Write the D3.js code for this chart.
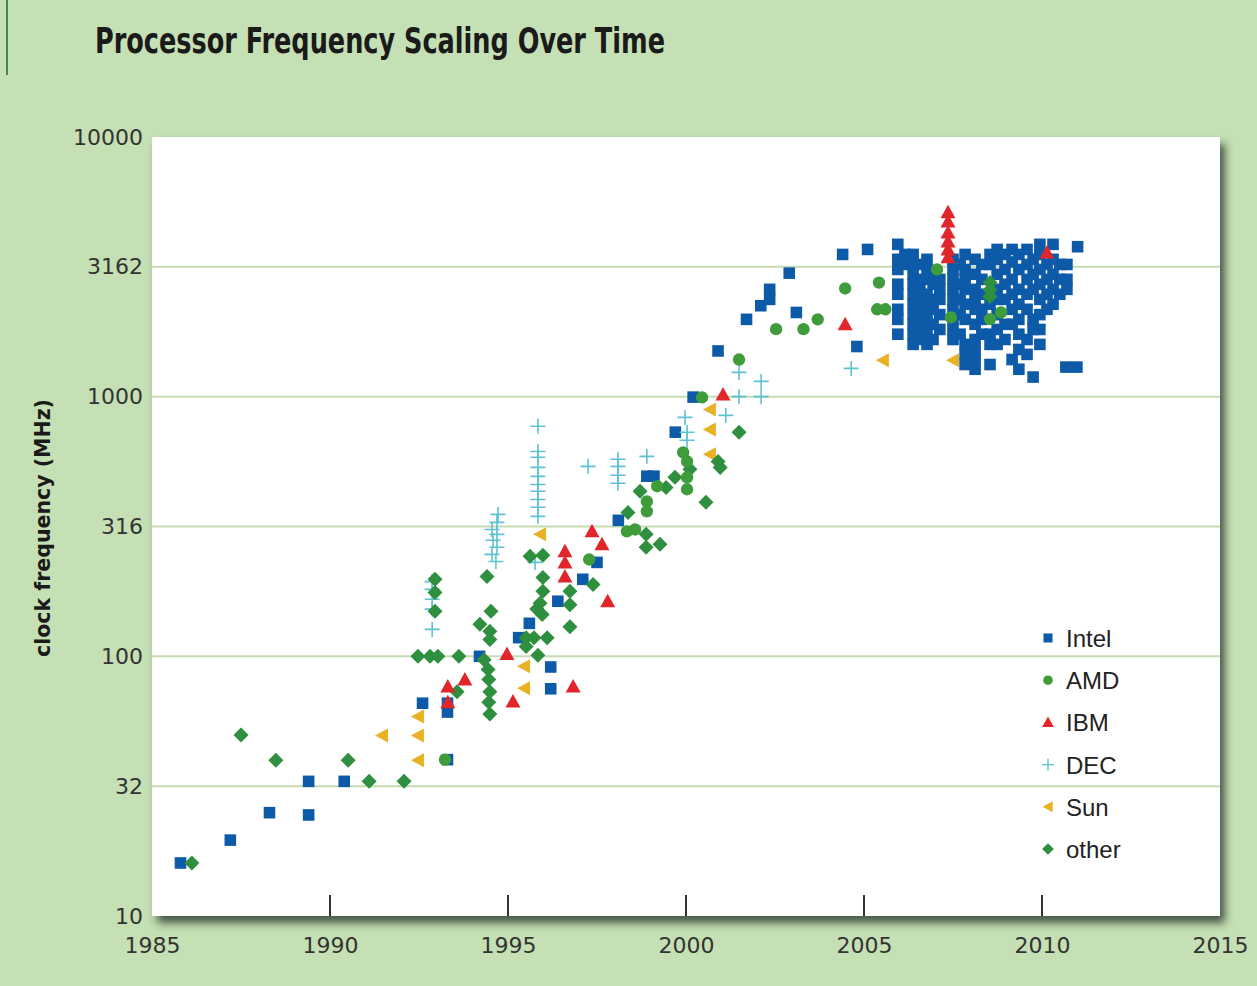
<!DOCTYPE html>
<html>
<head>
<meta charset="utf-8">
<script src="https://cdn.jsdelivr.net/npm/d3@7"></script>
<style>
  html, body { margin: 0; padding: 0; background: #fff; }
  svg { display: block; }
</style>
</head>
<body>
<div id="chart"></div>
<script>
// values: [year, clock frequency in MHz]
var intel = [
  [1985.8, 16], [1987.2, 19.6], [1988.3, 25], [1989.4, 24.5], [1989.4, 33], [1990.4, 33],
  [1992.6, 66], [1993.3, 66], [1993.3, 61], [1993.3, 40], [1994.2, 100], [1995.3, 118],
  [1995.6, 134], [1996.2, 91], [1996.2, 75], [1996.4, 163], [1997.1, 198], [1997.5, 230],
  [1998.1, 334], [1998.9, 494], [1999.1, 494], [1999.7, 730], [2000.2, 996], [2000.9, 1500],
  [2001.7, 1985], [2002.1, 2240], [2002.35, 2370], [2002.35, 2590], [2002.9, 2990],
  [2003.1, 2110], [2004.4, 3530], [2005.1, 3690], [2004.8, 1560],
  [2010.67, 1300], [2010.98, 1300]
];

// the dense 2006-2011 block, one entry per column: [year, [MHz, ...]]
var intelCluster = [
  [2005.95, [3860, 3380, 3090, 2710, 2480, 2170, 1985, 1740]],
  [2006.15, [3530, 3230]],
  [2006.38, [3530, 3230, 2960, 2710, 2480, 2270, 2070, 1900, 1740, 1590]],
  [2006.57, [3230, 2830, 2590, 2370, 2170, 1985, 1815, 1660]],
  [2006.77, [3380, 3090, 2830, 2480, 2270, 2070, 1900, 1740, 1590]],
  [2006.94, [2960, 2710, 2370, 2170, 1900, 1660]],
  [2007.13, [2830, 2590, 2370, 2070, 1815]],
  [2007.5, [3380, 3090, 2830, 2590, 2370, 2170, 1985, 1815, 1660]],
  [2007.7, [3230, 2710, 2370, 2070, 1740]],
  [2007.84, [3530, 3090, 2830, 2590, 2270, 1985, 1590, 1455, 1330]],
  [2008.12, [3380, 2960, 2590, 2370, 2170, 1900, 1660, 1520, 1390, 1275]],
  [2008.31, [3230, 2830, 2480, 2170, 1985, 1740]],
  [2008.54, [3530, 3230, 2270, 1740, 1590, 1330]],
  [2008.74, [3690, 3380, 2960, 2590, 2370, 2070, 1815, 1590]],
  [2008.96, [3530, 3090, 2710, 2370, 1900, 1660]],
  [2009.16, [3690, 3300, 2830, 2480, 2170, 1900, 1390]],
  [2009.35, [3530, 3090, 2590, 2270, 1985, 1740, 1520, 1275]],
  [2009.58, [3690, 3230, 2830, 2480, 2170, 1660, 1455]],
  [2009.75, [3380, 2960, 2590, 1985, 1815, 1190]],
  [2009.94, [3860, 3530, 3090, 2710, 2370, 2070, 1815, 1590]],
  [2010.14, [3230, 2830, 2480, 2170]],
  [2010.31, [3860, 3380, 2960, 2590, 2270]],
  [2010.5, [3230, 2830, 2480]],
  [2010.7, [3230, 2830, 2590]],
  [2011.0, [3780]]
];

var amd = [
  [1993.23, 40], [1997.28, 236], [1998.34, 303], [1998.57, 308], [1998.9, 362], [1998.9, 395],
  [1999.19, 452], [1999.92, 610], [2000.03, 563], [2000.03, 489], [2000.03, 440], [2000.45, 994],
  [2001.49, 1390], [2002.53, 1820], [2003.3, 1820], [2003.7, 1985], [2004.47, 2610],
  [2005.42, 2750], [2005.37, 2170], [2005.6, 2170], [2007.05, 3090], [2007.44, 2020],
  [2008.54, 1990], [2008.85, 2110]
];

var ibm = [
  [1993.31, 76.6], [1993.79, 81.5], [1993.31, 66.5], [1994.97, 102], [1995.14, 67],
  [1996.6, 254], [1996.6, 230], [1996.6, 203], [1997.36, 303], [1997.64, 270], [1997.8, 163],
  [1996.83, 76.6], [2001.04, 1020], [2004.47, 1900],
  [2007.36, 5130], [2007.36, 4730], [2007.36, 4290], [2007.36, 3960], [2007.36, 3690],
  [2007.36, 3440], [2010.14, 3590]
];

var dec = [
  [1992.87, 194], [1992.87, 181], [1992.87, 166], [1992.87, 152], [1992.87, 127],
  [1994.72, 352], [1994.69, 328], [1994.55, 308], [1994.69, 295], [1994.58, 280],
  [1994.69, 263], [1994.55, 247], [1994.66, 232],
  [1995.84, 769], [1995.84, 615], [1995.84, 584], [1995.84, 534], [1995.84, 493],
  [1995.84, 459], [1995.84, 432], [1995.84, 402], [1995.84, 375], [1995.84, 346], [1995.76, 230],
  [1997.25, 539], [1998.09, 574], [1998.09, 539], [1998.09, 498], [1998.09, 464], [1998.9, 589],
  [1999.97, 832], [2000.03, 729], [2000.03, 679], [2001.12, 847], [2001.49, 1240],
  [2001.49, 1000], [2002.11, 1145], [2002.11, 1000], [2004.64, 1285]
];

var sun = [
  [1991.46, 49.6], [1992.47, 58.7], [1992.47, 49.6], [1992.47, 39.8], [1995.45, 91.5],
  [1995.45, 75.3], [1995.9, 295], [2000.67, 893], [2000.67, 748], [2000.67, 600],
  [2005.53, 1380], [2007.5, 1380]
];

var other = [
  [1986.12, 16], [1987.5, 49.8], [1988.48, 39.8], [1990.51, 39.8], [1991.1, 33], [1992.08, 33],
  [1992.47, 100], [1992.81, 100], [1993.03, 100], [1993.62, 100], [1992.95, 198], [1992.95, 176],
  [1992.95, 149], [1994.41, 203], [1994.52, 149], [1994.21, 133], [1994.49, 125], [1994.49, 116],
  [1994.33, 97], [1994.44, 89], [1994.46, 81.5], [1994.49, 73], [1994.46, 66.5], [1994.49, 60],
  [1993.57, 73], [1995.62, 243], [1995.98, 245], [1995.98, 201], [1995.98, 178], [1995.9, 160],
  [1995.81, 152], [1995.96, 145], [1995.51, 118], [1995.73, 118], [1996.1, 118], [1995.51, 109],
  [1995.84, 101], [1996.74, 178], [1996.74, 158], [1996.74, 130], [1997.39, 189], [1998.37, 358],
  [1998.88, 295], [1998.88, 263], [1999.27, 270], [1998.71, 432], [1999.44, 447], [1999.69, 489],
  [2000.11, 525], [2000.56, 392], [2000.9, 563], [2000.96, 534], [2001.49, 729],
  [2008.54, 2750], [2008.54, 2580], [2008.54, 2430]
];

var seriesNames = ["Intel", "AMD", "IBM", "DEC", "Sun", "other"];
var xTickValues = [1985, 1990, 1995, 2000, 2005, 2010, 2015];
var yTickValues = [10, 31.623, 100, 316.23, 1000, 3162.3, 10000];
var yTickLabels = ["10", "32", "100", "316", "1000", "3162", "10000"];

var colors = {
  Intel: "#0d5ba8", AMD: "#3f9c3a", IBM: "#e1262b",
  DEC: "#5cc2d2", Sun: "#e8b224", other: "#2e8f3e"
};

// marker shapes, centred on 0,0
var shapes = {
  Intel: "M-5.8,-5.8h11.6v11.6h-11.6Z",
  AMD: d3.symbol(d3.symbolCircle, 120)(),
  IBM: "M0,-7.5L7.5,6L-7.5,6Z",
  DEC: "M-7.5,0H7.5M0,-7.5V7.5",
  Sun: "M-7,0L6,-7L6,7Z",
  other: "M0,-7.5L7.5,0L0,7.5L-7.5,0Z"
};

var W = 1257, H = 986;
var plot = { left: 152, right: 1220, top: 137, bottom: 916 };

var svg = d3.select("#chart")
    .append("svg")
    .attr("width", W)
    .attr("height", H);

svg.append("rect")
    .attr("width", W)
    .attr("height", H)
    .attr("fill", "#c5e0b4");

// thin dark stripe at the top left edge
svg.append("line")
    .attr("x1", 7).attr("x2", 7)
    .attr("y1", 0).attr("y2", 75)
    .attr("stroke", "#3f8a3f")
    .attr("stroke-width", 2);

// title
svg.append("text")
    .attr("x", 95)
    .attr("y", 53)
    .attr("textLength", 570)
    .attr("lengthAdjust", "spacingAndGlyphs")
    .style("font-family", "'Liberation Sans Narrow', 'DejaVu Sans Condensed', sans-serif")
    .style("font-weight", "bold")
    .style("font-size", "35px")
    .style("fill", "#1a1a1a")
    .text("Processor Frequency Scaling Over Time");

// drop shadow for the white plot panel
var defs = svg.append("defs");
var f = defs.append("filter")
    .attr("id", "shadow")
    .attr("x", "-5%").attr("y", "-5%")
    .attr("width", "110%").attr("height", "115%");
f.append("feDropShadow")
    .attr("dx", 5).attr("dy", 7)
    .attr("stdDeviation", 4)
    .attr("flood-color", "#26352a")
    .attr("flood-opacity", 0.8);

svg.append("rect")
    .attr("x", plot.left)
    .attr("y", plot.top)
    .attr("width", plot.right - plot.left)
    .attr("height", plot.bottom - plot.top)
    .attr("fill", "#ffffff")
    .attr("filter", "url(#shadow)");

// scales
var x = d3.scaleLinear()
    .domain([1985, 2015])
    .range([plot.left, plot.right]);
var y = d3.scaleLog()
    .domain([10, 10000])
    .range([plot.bottom, plot.top]);

// horizontal grid lines
svg.append("g")
    .selectAll("line")
    .data(yTickValues.slice(1, -1))
    .enter()
    .append("line")
    .attr("x1", plot.left)
    .attr("x2", plot.right)
    .attr("y1", d => y(d))
    .attr("y2", d => y(d))
    .attr("stroke", "#c6dbb2")
    .attr("stroke-width", 2);

// small inward tick marks on the bottom edge
svg.append("g")
    .selectAll("line")
    .data(xTickValues.slice(1, -1))
    .enter()
    .append("line")
    .attr("x1", d => x(d))
    .attr("x2", d => x(d))
    .attr("y1", plot.bottom)
    .attr("y2", plot.bottom - 21)
    .attr("stroke", "#333")
    .attr("stroke-width", 2);

// Y axis labels
var yAxis = svg.append("g")
    .attr("transform", "translate(" + plot.left + ",0)")
    .call(d3.axisLeft(y)
        .tickValues(yTickValues)
        .tickFormat((d, i) => yTickLabels[i])
        .tickSize(0)
        .tickPadding(9));
yAxis.select(".domain").remove();
yAxis.selectAll("text")
    .style("font-family", "'DejaVu Sans', sans-serif")
    .style("font-size", "22px")
    .style("fill", "#333");

// X axis labels
var xAxis = svg.append("g")
    .attr("transform", "translate(0," + plot.bottom + ")")
    .call(d3.axisBottom(x)
        .tickValues(xTickValues)
        .tickFormat(d3.format("d"))
        .tickSize(0)
        .tickPadding(21));
xAxis.select(".domain").remove();
xAxis.selectAll("text")
    .style("font-family", "'DejaVu Sans', sans-serif")
    .style("font-size", "22px")
    .style("fill", "#333");

// y axis title
svg.append("text")
    .attr("transform", "translate(50,528) rotate(-90)")
    .attr("text-anchor", "middle")
    .attr("textLength", 258)
    .attr("lengthAdjust", "spacingAndGlyphs")
    .style("font-family", "'Liberation Sans Narrow', 'DejaVu Sans Condensed', sans-serif")
    .style("font-weight", "bold")
    .style("font-size", "22px")
    .style("fill", "#1a1a1a")
    .text("clock frequency (MHz)");

// flatten the Intel block into points
var intelAll = intel.slice();
intelCluster.forEach(col => {
    col[1].forEach(v => intelAll.push([col[0], v]));
});

var seriesData = {
    Intel: intelAll, DEC: dec, Sun: sun, other: other, AMD: amd, IBM: ibm
};

// drawing order: Intel underneath, IBM on top
["Intel", "DEC", "Sun", "other", "AMD", "IBM"].forEach(name => {
    var isLine = name === "DEC";
    svg.append("g")
        .selectAll("path")
        .data(seriesData[name])
        .enter()
        .append("path")
        .attr("transform", d => "translate(" + x(d[0]) + "," + y(d[1]) + ")")
        .attr("d", shapes[name])
        .attr("fill", isLine ? "none" : colors[name])
        .attr("stroke", isLine ? colors[name] : "none")
        .attr("stroke-width", isLine ? 1.6 : 0);
});

// legend
var legend = svg.append("g")
    .attr("transform", "translate(1048,638)");
var item = legend.selectAll("g")
    .data(seriesNames)
    .enter()
    .append("g")
    .attr("transform", (d, i) => "translate(0," + (i * 42.2) + ")");
item.append("path")
    .attr("d", d => shapes[d])
    .attr("transform", "scale(0.78)")
    .attr("fill", d => d === "DEC" ? "none" : colors[d])
    .attr("stroke", d => d === "DEC" ? colors[d] : "none")
    .attr("stroke-width", 1.8);
item.append("text")
    .attr("x", 18)
    .attr("y", 9)
    .style("font-family", "'Liberation Sans', sans-serif")
    .style("font-size", "24px")
    .style("fill", "#222")
    .text(d => d);
</script>
</body>
</html>
